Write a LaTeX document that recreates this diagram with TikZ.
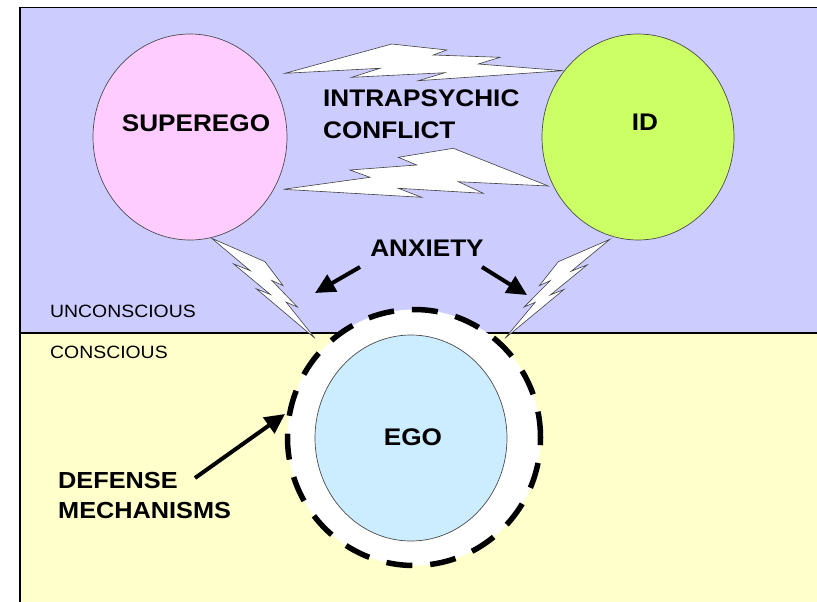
\documentclass[tikz,border=0pt]{standalone}
\usepackage{fontspec}
\setmainfont{Liberation Sans}[FakeStretch=1.09]
\usetikzlibrary{arrows.meta,shapes.geometric}
\definecolor{uncon}{RGB}{204,204,255}
\definecolor{con}{RGB}{255,255,204}
\definecolor{superc}{RGB}{255,204,255}
\definecolor{idc}{RGB}{204,255,102}
\definecolor{egoc}{RGB}{204,236,255}
\begin{document}
\begin{tikzpicture}[x=1pt,y=-1pt,
  big/.style={font=\fontsize{24}{28}\selectfont\bfseries, inner sep=0pt},
  small/.style={font=\fontsize{17.8}{20}\selectfont, inner sep=0pt},
  psyche/.style={ellipse, draw=black!70, line width=0.7pt, inner sep=0pt},
  bolt/.style={draw=black!75, fill=white, line width=0.6pt, line join=miter},
  arr/.style={line width=4pt, -{Triangle[length=20pt,width=19pt]}}]
\useasboundingbox (0,0) rectangle (817,602);
\fill[white] (0,0) rectangle (817,602);
\fill[uncon] (20,7.5) rectangle (817,333);
\fill[con] (20,333) rectangle (817,602);
\draw[line width=1.2pt] (817,7.5) -- (20,7.5) -- (20,602);
\draw[line width=1.2pt] (20,333) -- (817,333);
% lightning bolts between superego and id
\draw[bolt] (285,73.3) -- (391.7,44) -- (446.7,50) -- (433.3,55) -- (500,57.3) -- (478.3,64) -- (563.3,70.7) -- (418.3,80.7) -- (445,72.7) -- (351.7,77.3) -- (380,68.3) -- cycle;
\draw[bolt] (283.3,189.3) -- (370,177.3) -- (350,170) -- (416.7,165) -- (398.3,157.3) -- (453.3,148.3) -- (548.3,186) -- (458.3,181.7) -- (483.3,193.3) -- (398.3,188.3) -- (421.7,197.3) -- cycle;
% lightning bolts down to the ego
\begin{scope}[shift={(216.3pt,-232.6pt)}, x={(124.2pt,-74.2pt)}, y={(-25.5pt,-31.5pt)}]
\draw[bolt] (0.392,0) -- (0.595,0.281) -- (0.512,0.315) -- (0.767,0.556) -- (0.684,0.596) -- (1,1) -- (0.464,0.690) -- (0.566,0.633) -- (0.232,0.449) -- (0.352,0.381) -- (0,0.180) -- cycle;
\end{scope}
\begin{scope}[shift={(606.2pt,-233.4pt)}, x={(-122.1pt,-72.2pt)}, y={(20.9pt,-32.7pt)}]
\draw[bolt] (0.392,0) -- (0.595,0.281) -- (0.512,0.315) -- (0.767,0.556) -- (0.684,0.596) -- (1,1) -- (0.464,0.690) -- (0.566,0.633) -- (0.232,0.449) -- (0.352,0.381) -- (0,0.180) -- cycle;
\end{scope}
% circles
\node[psyche, fill=superc, minimum width=194pt, minimum height=206pt] (superego) at (190,137) {};
\node[psyche, fill=idc, minimum width=192pt, minimum height=206pt] (id) at (638,137) {};
\node[ellipse, fill=white, draw=black, line width=5.5pt, dash pattern=on 26pt off 18pt, minimum width=253pt, minimum height=256pt, inner sep=0pt] (defense) at (414,437.5) {};
\node[psyche, fill=egoc, minimum width=192pt, minimum height=206pt] (ego) at (411,438) {};
% texts
\node[big, anchor=base] (tsuper) at (196,131.7) {SUPEREGO};
\node[big, anchor=base] (tid) at (645,130.7) {ID};
\node[big, anchor=base west] (tintra) at (323,106.7) {INTRAPSYCHIC};
\node[big, anchor=base west] (tconf) at (323,139) {CONFLICT};
\node[big, anchor=base] (tanx) at (427,256.7) {ANXIETY};
\node[big, anchor=base] (tego) at (413,445) {EGO};
\node[big, font=\fontsize{23.2}{28}\selectfont\bfseries, anchor=base west] (tdef) at (58,488) {DEFENSE};
\node[big, font=\fontsize{23.2}{28}\selectfont\bfseries, anchor=base west] (tmech) at (58,518) {MECHANISMS};
\node[small, anchor=base west] (tuncon) at (50,317.5) {UNCONSCIOUS};
\node[small, anchor=base west] (tcon) at (50,358) {CONSCIOUS};
% arrows
\coordinate (al0) at (360,267);
\coordinate (al1) at (315,293);
\coordinate (ar0) at (482,267);
\coordinate (ar1) at (527,295);
\coordinate (ad0) at (195,478);
\coordinate (ad1) at (285,414);
\draw[arr] (al0) -- (al1);
\draw[arr] (ar0) -- (ar1);
\draw[arr] (ad0) -- (ad1);
\end{tikzpicture}
\end{document}
